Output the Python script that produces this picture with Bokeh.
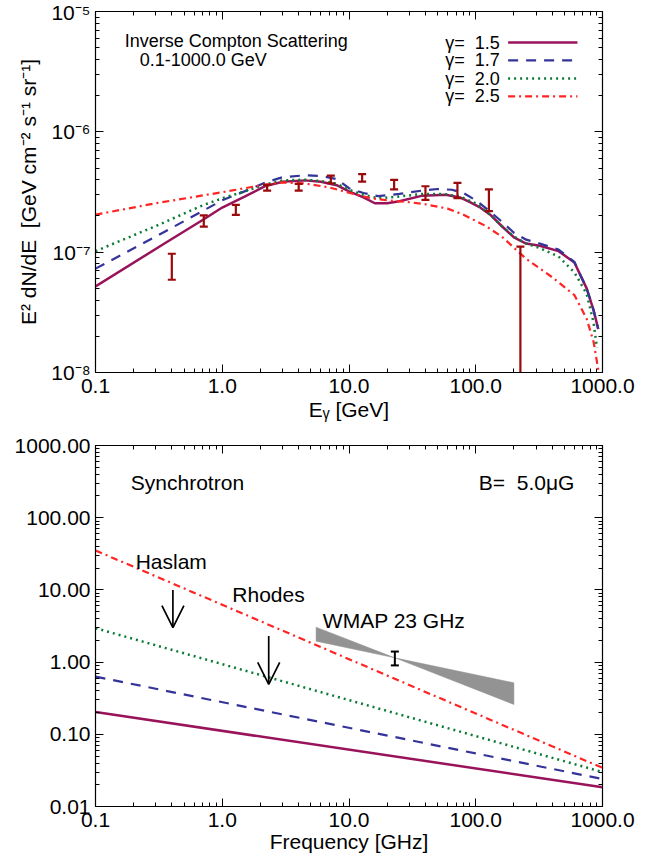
from bokeh.plotting import figure
from bokeh.models import (LogAxis, FixedTicker, CustomJSTickFormatter, Arrow, OpenHead,
                          Label, ColumnDataSource)
from bokeh.layouts import column
from bokeh.embed import file_html
from bokeh.resources import INLINE

# ---------------- top panel: Inverse Compton spectra ----------------
g15_e = [0.1, 0.35, 0.7, 1.0, 1.5, 2.2, 3.0, 4.5, 6.0, 8.0, 10.0, 13.0, 16.0, 20.0, 25.0,
         38.0, 58.0, 75.0, 90.0, 107.0, 130.0, 160.0, 200.0, 250.0, 320.0, 450.0, 600.0,
         750.0, 850.0, 925.0]
g15_f = [5.2e-8, 1.18e-7, 1.85e-7, 2.35e-7, 2.9e-7, 3.55e-7, 3.85e-7, 3.95e-7, 3.85e-7,
         3.6e-7, 3.2e-7, 2.85e-7, 2.55e-7, 2.55e-7, 2.65e-7, 2.95e-7, 3.0e-7, 2.85e-7,
         2.6e-7, 2.37e-7, 2.05e-7, 1.65e-7, 1.33e-7, 1.18e-7, 1.13e-7, 1.02e-7, 8.2e-8,
         5.0e-8, 3.3e-8, 2.3e-8]

g17_e = [0.1, 0.3, 0.7, 1.0, 1.5, 2.2, 3.0, 4.5, 6.0, 8.0, 10.0, 13.0, 17.0, 25.0, 38.0,
         50.0, 65.0, 80.0, 100.0, 125.0, 160.0, 200.0, 250.0, 320.0, 450.0, 600.0, 750.0,
         850.0, 925.0]
g17_f = [7.3e-8, 1.35e-7, 2.2e-7, 2.7e-7, 3.2e-7, 3.8e-7, 4.2e-7, 4.35e-7, 4.3e-7, 4.05e-7,
         3.4e-7, 3.1e-7, 2.92e-7, 3.05e-7, 3.25e-7, 3.35e-7, 3.3e-7, 3.1e-7, 2.7e-7, 2.25e-7,
         1.8e-7, 1.45e-7, 1.27e-7, 1.18e-7, 1.05e-7, 8.3e-8, 5.0e-8, 3.3e-8, 2.3e-8]

g20_e = [0.1, 0.3, 0.7, 1.0, 1.5, 2.2, 3.0, 4.5, 6.0, 8.0, 10.0, 13.0, 17.0, 25.0, 38.0,
         55.0, 75.0, 100.0, 130.0, 160.0, 200.0, 250.0, 320.0, 450.0, 600.0, 750.0, 850.0,
         905.0]
g20_f = [1.02e-7, 1.65e-7, 2.45e-7, 2.8e-7, 3.2e-7, 3.65e-7, 3.95e-7, 4.0e-7, 3.9e-7,
         3.7e-7, 3.3e-7, 3.0e-7, 2.8e-7, 2.9e-7, 3.05e-7, 3.05e-7, 2.9e-7, 2.55e-7, 2.05e-7,
         1.65e-7, 1.35e-7, 1.18e-7, 1.08e-7, 9.2e-8, 6.8e-8, 4.5e-8, 2.6e-8, 1.6e-8]

g25_e = [0.1, 0.3, 1.0, 2.2, 3.0, 4.5, 7.0, 10.0, 15.0, 20.0, 30.0, 40.0, 60.0, 80.0,
         120.0, 160.0, 250.0, 400.0, 600.0, 750.0, 850.0, 950.0]
g25_f = [2.05e-7, 2.55e-7, 3.15e-7, 3.65e-7, 3.8e-7, 3.72e-7, 3.45e-7, 3.12e-7, 2.8e-7,
         2.7e-7, 2.6e-7, 2.5e-7, 2.3e-7, 2.05e-7, 1.65e-7, 1.35e-7, 8.8e-8, 6.2e-8, 4.4e-8,
         2.8e-8, 1.8e-8, 9e-9]

pts_e = [0.40, 0.715, 1.28, 2.26, 4.01, 7.19, 12.7, 22.7, 40.1, 71.7, 127.0, 225.0]
pts_hi = [9.7e-8, 2.02e-7, 2.47e-7, 3.63e-7, 3.7e-7, 4.33e-7, 4.45e-7, 3.99e-7, 3.53e-7,
          3.76e-7, 3.32e-7, 1.11e-7]
pts_lo = [5.9e-8, 1.63e-7, 2.04e-7, 3.25e-7, 3.25e-7, 3.74e-7, 3.86e-7, 3.32e-7, 2.72e-7,
          2.81e-7, 2.19e-7, 1e-10]

NB = "\u00a0"
gamma_labels = ["\u03b3=" + NB + " 1.5", "\u03b3=" + NB + " 1.7",
                "\u03b3=" + NB + " 2.0", "\u03b3=" + NB + " 2.5"]

# ---------------- bottom panel: synchrotron ----------------
freq = [0.1, 1000.0]
sync_15 = [0.203, 0.0185]
sync_17 = [0.63, 0.024]
sync_20 = [2.95, 0.030]
sync_25 = [35.2, 0.0343]

wmap_x = [5.5, 23.0, 200.0, 200.0, 23.0, 5.5]
wmap_y = [3.05, 1.145, 0.517, 0.259, 1.145, 1.95]
wmap_pt_f = [23.0]
wmap_pt_lo = [0.90]
wmap_pt_hi = [1.40]

haslam_f = 0.408
haslam_from, haslam_to = 10.0, 3.0
rhodes_f = 2.326
rhodes_from, rhodes_to = 2.3, 0.49

# ---------------- styles ----------------
FONT = "Liberation Sans"
C15, C17, C20, C25 = "#99135a", "#33339a", "#0b7a35", "#ff2424"
ERR = "#9a0a0a"
styles = [
    dict(line_color=C15, line_width=2.5),
    dict(line_color=C17, line_width=2.2, line_dash="10 8"),
    dict(line_color=C20, line_width=2.5, line_dash="2 4"),
    dict(line_color=C25, line_width=2.2, line_dash="7 4 2 4"),
]

xmaj = [0.1, 1.0, 10.0, 100.0, 1000.0]
xmin = [m * 10.0 ** k for k in range(-1, 3) for m in range(2, 10)]


def log_ticker(lo_exp, hi_exp):
    maj = [10.0 ** k for k in range(lo_exp, hi_exp + 1)]
    mn = [m * 10.0 ** k for k in range(lo_exp, hi_exp) for m in range(2, 10)]
    return FixedTicker(ticks=maj, minor_ticks=mn)


def style_axis(ax, size="21px"):
    ax.major_tick_in = 8
    ax.major_tick_out = 0
    ax.minor_tick_in = 4
    ax.minor_tick_out = 0
    ax.axis_line_color = "black"
    ax.major_tick_line_color = "black"
    ax.minor_tick_line_color = "black"
    ax.major_label_text_font = FONT
    ax.major_label_text_font_size = size
    ax.major_label_text_color = "black"
    ax.axis_label_text_font = FONT
    ax.axis_label_text_font_size = "21px"
    ax.axis_label_text_font_style = "normal"
    ax.axis_label_text_color = "black"


def add_mirror_axes(p, xt, yt):
    for loc, tk in (("above", xt), ("right", yt)):
        ax = LogAxis(ticker=tk, formatter=CustomJSTickFormatter(code="return ''"))
        style_axis(ax, size="0px")
        ax.major_label_standoff = 0
        p.add_layout(ax, loc)


def base_fig(height, ylo, yhi, top, bottom):
    p = figure(width=648, height=height, x_axis_type="log", y_axis_type="log",
               x_range=(0.1, 1000.0), y_range=(ylo, yhi), output_backend="svg",
               toolbar_location=None, min_border_left=95, min_border_right=46,
               min_border_top=top, min_border_bottom=bottom)
    p.grid.visible = False
    p.outline_line_color = "black"
    p.outline_line_width = 1.2
    p.background_fill_color = "white"
    p.border_fill_color = "white"
    return p


def text(p, x, y, t, size, align="left"):
    p.add_layout(Label(x=x, y=y, text=t, text_font=FONT, text_font_size=size,
                       text_color="black", text_baseline="middle", text_align=align))


# ================= TOP =================
p1 = base_fig(430, 1e-8, 1e-5, 11, 58)
xt1 = FixedTicker(ticks=xmaj, minor_ticks=xmin)
yt1 = log_ticker(-8, -5)
p1.xaxis.ticker = xt1
p1.yaxis.ticker = yt1
p1.xaxis.formatter = CustomJSTickFormatter(code="return tick.toFixed(1);")
p1.yaxis.formatter = CustomJSTickFormatter(code="""
const sup = {'-':'\u207b','0':'\u2070','1':'\u00b9','2':'\u00b2','3':'\u00b3','4':'\u2074',
             '5':'\u2075','6':'\u2076','7':'\u2077','8':'\u2078','9':'\u2079'};
const e = Math.round(Math.log10(tick));
return '10' + String(e).split('').map(c => sup[c]).join('');
""")
for ax in p1.xaxis + p1.yaxis:
    style_axis(ax)
p1.xaxis.major_label_standoff = 6
p1.xaxis.axis_label_standoff = 2
p1.yaxis.major_label_standoff = 5
p1.yaxis.axis_label_standoff = 8
p1.xaxis.axis_label = "E\u1d67 [GeV]"
p1.yaxis.axis_label = ("E\u00b2 dN/dE" + NB + " [GeV cm\u207b\u00b2 s\u207b\u00b9 sr\u207b\u00b9]")
add_mirror_axes(p1, xt1, yt1)

for (xe, yf), st in zip([(g15_e, g15_f), (g17_e, g17_f), (g20_e, g20_f), (g25_e, g25_f)],
                        styles):
    p1.line(xe, yf, **st)

err_src = ColumnDataSource(dict(e=pts_e, lo=pts_lo, hi=pts_hi))
p1.segment(x0="e", y0="lo", x1="e", y1="hi", source=err_src, line_color=ERR, line_width=2.2)
p1.scatter(x="e", y="hi", source=err_src, marker="dash", size=8, line_color=ERR,
           line_width=2.2)
p1.scatter(x="e", y="lo", source=err_src, marker="dash", size=8, line_color=ERR,
           line_width=2.2)

text(p1, 0.17, 5.64e-6, "Inverse Compton Scattering", "18px")
text(p1, 0.2235, 3.92e-6, "0.1-1000.0 GeV", "18px")
leg_y = [5.52e-6, 3.92e-6, 2.77e-6, 1.97e-6]
for lab, yy, st in zip(gamma_labels, leg_y, styles):
    text(p1, 155.0, yy, lab, "18px", align="right")
    p1.line([180.0, 634.0], [yy, yy], **st)

# ================= BOTTOM =================
p2 = base_fig(432, 0.01, 1000.0, 15, 56)
xt2 = FixedTicker(ticks=xmaj, minor_ticks=xmin)
yt2 = log_ticker(-2, 3)
p2.xaxis.ticker = xt2
p2.yaxis.ticker = yt2
p2.xaxis.formatter = CustomJSTickFormatter(code="return tick.toFixed(1);")
p2.yaxis.formatter = CustomJSTickFormatter(code="return tick.toFixed(2);")
for ax in p2.xaxis + p2.yaxis:
    style_axis(ax)
p2.xaxis.major_label_standoff = 6
p2.xaxis.axis_label_standoff = 0
p2.yaxis.major_label_standoff = 5
p2.xaxis.axis_label = "Frequency [GHz]"
add_mirror_axes(p2, xt2, yt2)

p2.patch(wmap_x, wmap_y, fill_color="#939393", line_color="#939393", line_width=0.5)
for yv, st in zip([sync_15, sync_17, sync_20, sync_25], styles):
    p2.line(freq, yv, **st)

w_src = ColumnDataSource(dict(f=wmap_pt_f, lo=wmap_pt_lo, hi=wmap_pt_hi))
p2.segment(x0="f", y0="lo", x1="f", y1="hi", source=w_src, line_color="black", line_width=2)
p2.scatter(x="f", y="hi", source=w_src, marker="dash", size=8, line_color="black", line_width=2)
p2.scatter(x="f", y="lo", source=w_src, marker="dash", size=8, line_color="black", line_width=2)

for f0, a, b in ((haslam_f, haslam_from, haslam_to), (rhodes_f, rhodes_from, rhodes_to)):
    p2.add_layout(Arrow(end=OpenHead(size=22, line_width=1.7, line_color="black"),
                        x_start=f0, y_start=a, x_end=f0, y_end=b,
                        line_width=1.7, line_color="black"))

text(p2, 0.19, 307.0, "Synchrotron", "21px")
text(p2, 600.0, 307.0, "B=" + NB + " 5.0\u03bcG", "21px", align="right")
text(p2, 0.2075, 24.7, "Haslam", "21px")
text(p2, 1.20, 8.63, "Rhodes", "21px")
text(p2, 6.22, 3.77, "WMAP 23 GHz", "21px")

layout = column(p1, p2)
open("out.html", "w").write(file_html(layout, INLINE))
